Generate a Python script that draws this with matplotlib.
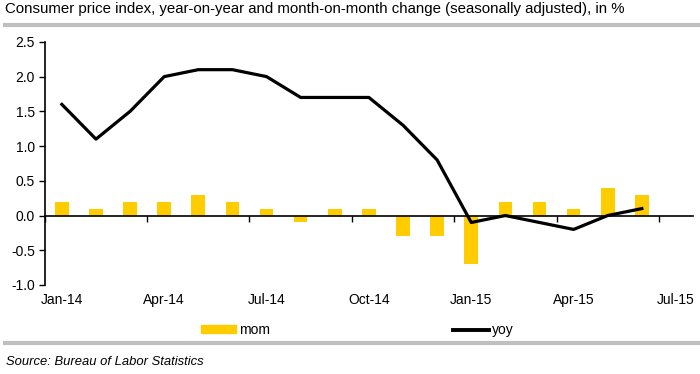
import numpy as np
import matplotlib.pyplot as plt
from matplotlib.lines import Line2D
from matplotlib.patches import Patch

months = ['Jan-14', 'Feb-14', 'Mar-14', 'Apr-14', 'May-14', 'Jun-14', 'Jul-14', 'Aug-14', 'Sep-14',
          'Oct-14', 'Nov-14', 'Dec-14', 'Jan-15', 'Feb-15', 'Mar-15', 'Apr-15', 'May-15', 'Jun-15']
mom = [0.2, 0.1, 0.2, 0.2, 0.3, 0.2, 0.1, -0.1, 0.1, 0.1, -0.3, -0.3, -0.7, 0.2, 0.2, 0.1, 0.4, 0.3]
yoy = [1.6, 1.1, 1.5, 2.0, 2.1, 2.1, 2.0, 1.7, 1.7, 1.7, 1.3, 0.8, -0.1, 0.0, -0.1, -0.2, 0.0, 0.1]
tick_labels = ['Jan-14', 'Apr-14', 'Jul-14', 'Oct-14', 'Jan-15', 'Apr-15', 'Jul-15']

plt.rcParams['font.family'] = ['Liberation Sans', 'DejaVu Sans']

fig = plt.figure(figsize=(7, 3.74), dpi=100)
ax = fig.add_axes([0.064, 0.238, 0.926, 0.65])

x = np.arange(len(months))
ax.bar(x, mom, width=0.4, color='#FFCC00', zorder=2)
ax.plot(x, yoy, color='black', lw=2.3, zorder=3)

ax.set_xlim(-0.5, 18.5)
ax.set_ylim(-1.0, 2.5)
ax.set_yticks(np.arange(-1.0, 2.51, 0.5))
ax.set_yticklabels(['%.1f' % v for v in np.arange(-1.0, 2.51, 0.5)], fontsize=10)
ax.tick_params(axis='y', direction='out', length=4, width=1, pad=3)

# x axis drawn at zero, tick marks between categories
ax.spines['bottom'].set_position(('data', 0))
ax.spines['top'].set_visible(False)
ax.spines['right'].set_visible(False)
ax.spines['left'].set_linewidth(1.2)
ax.spines['bottom'].set_linewidth(1.2)
ax.set_xticks(np.arange(-0.5, 18.0, 3))
ax.set_xticklabels([])
ax.tick_params(axis='x', direction='out', length=4, width=1)
for i, lab in enumerate(tick_labels):
    ax.text(i * 3, -0.035, lab, transform=ax.get_xaxis_transform(), ha='center', va='top', fontsize=10)

handles = [Patch(color='#FFCC00'), Line2D([0], [0], color='black', lw=2.8)]
fig.legend(handles, ['mom', 'yoy'], ncol=2, loc='center left', bbox_to_anchor=(0.287, 0.118),
           frameon=False, fontsize=10, handlelength=2.55, handleheight=0.45, handletextpad=0.2,
           columnspacing=13.2, borderpad=0, borderaxespad=0)

fig.text(0.007, 0.976, 'Consumer price index, year-on-year and month-on-month change (seasonally adjusted), in %',
         fontsize=10.8, ha='left', va='center')
fig.add_artist(Line2D([0.007, 1.0], [0.934, 0.934], color='#BFBFBF', lw=3))
fig.add_artist(Line2D([0.007, 1.0], [0.0816, 0.0816], color='#BFBFBF', lw=3))
fig.text(0.008, 0.032, 'Source: Bureau of Labor Statistics', fontsize=9.4, style='italic', ha='left', va='center')

fig.savefig('out.png', dpi=100)
